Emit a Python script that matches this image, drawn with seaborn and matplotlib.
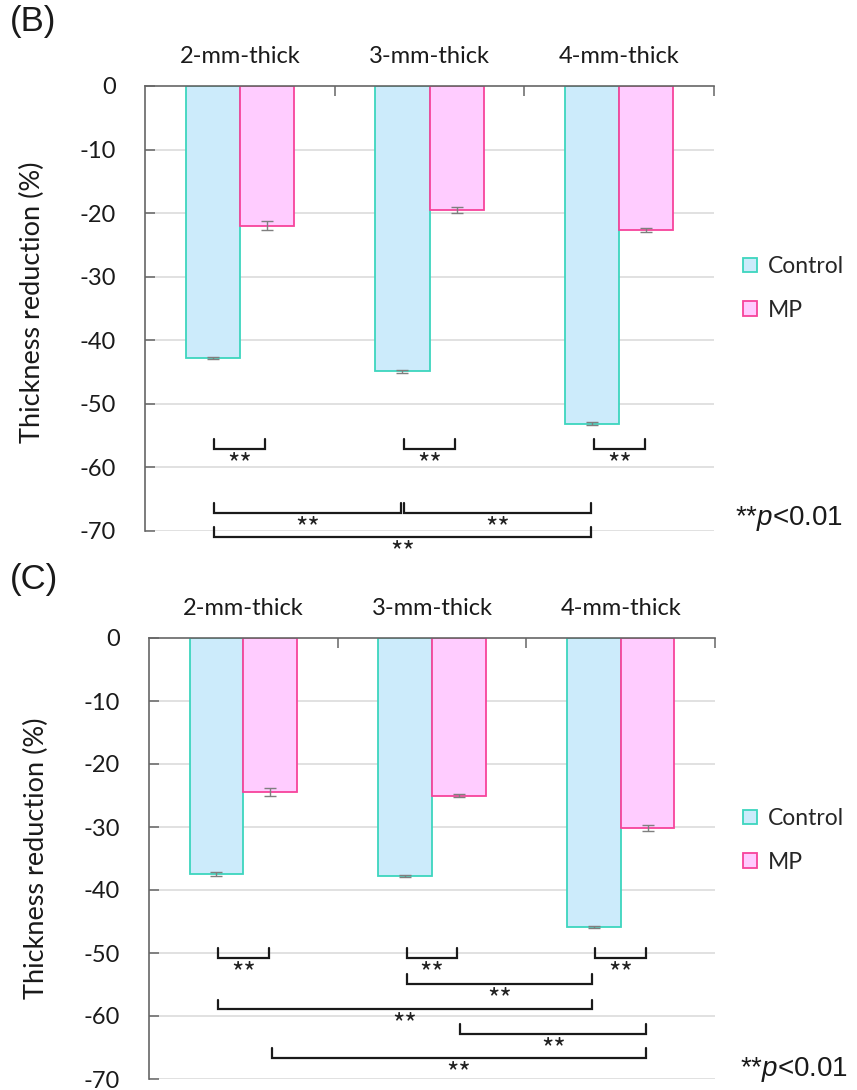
import pandas as pd
import numpy as np
import matplotlib.pyplot as plt
import seaborn as sns
from matplotlib.patches import Patch

# values (thickness reduction, %)
thickness = ["2-mm-thick", "3-mm-thick", "4-mm-thick"]
groups = ["Control", "MP"]

b_control = [-42.8, -44.9, -53.1]
b_mp = [-22.0, -19.5, -22.7]
b_control_err = [0.1, 0.3, 0.3]
b_mp_err = [0.7, 0.5, 0.3]

c_control = [-37.5, -37.8, -45.9]
c_mp = [-24.4, -25.0, -30.2]
c_control_err = [0.3, 0.2, 0.2]
c_mp_err = [0.6, 0.3, 0.5]

# comparisons: ((thickness idx, group), (thickness idx, group))
b_pairs = [((0, "Control"), (0, "MP")), ((1, "Control"), (1, "MP")), ((2, "Control"), (2, "MP")),
           ((0, "Control"), (1, "Control")), ((1, "Control"), (2, "Control")),
           ((0, "Control"), (2, "Control"))]
b_levels = [-55.6, -55.6, -55.6, -65.6, -65.6, -69.4]

c_pairs = [((0, "Control"), (0, "MP")), ((1, "Control"), (1, "MP")), ((2, "Control"), (2, "MP")),
           ((1, "Control"), (2, "Control")), ((0, "Control"), (2, "Control")),
           ((1, "MP"), (2, "MP")), ((0, "MP"), (2, "MP"))]
c_levels = [-49.2, -49.2, -49.2, -53.4, -57.4, -61.3, -65.1]

fill = {"Control": "#CCEBFB", "MP": "#FFCCFF"}
edge = {"Control": "#3DD5BE", "MP": "#F7439B"}

sns.set_theme(style="white")
plt.rcParams["font.family"] = ["Lato", "DejaVu Sans"]
plt.rcParams["mathtext.fontset"] = "custom"
plt.rcParams["mathtext.it"] = "Liberation Sans:italic"
plt.rcParams["mathtext.rm"] = "Liberation Sans"


def panel(ax, control, mp, control_err, mp_err, pairs, levels):
    df = pd.DataFrame({
        "thickness": thickness * 2,
        "group": ["Control"] * 3 + ["MP"] * 3,
        "value": control + mp,
    })
    errs = {"Control": control_err, "MP": mp_err}
    sns.barplot(data=df, x="thickness", y="value", hue="group", order=thickness,
                hue_order=groups, palette=fill, width=0.57, gap=0, errorbar=None,
                saturation=1, legend=False, ax=ax, zorder=2)
    centers = {}
    for g, cont in zip(groups, ax.containers):
        xs = []
        ys = []
        for i, bar in enumerate(cont):
            bar.set_edgecolor(edge[g])
            bar.set_linewidth(1.3)
            cx = bar.get_x() + bar.get_width() / 2
            centers[(i, g)] = cx
            xs.append(cx)
            ys.append(bar.get_y() + bar.get_height())
        ax.errorbar(xs, ys, yerr=errs[g], fmt="none", ecolor="#7F7F7F",
                    elinewidth=1, capsize=4, capthick=1, zorder=3)

    # significance brackets
    for (a, b), top in zip(pairs, levels):
        x1 = centers[a] + 0.008
        x2 = centers[b] - 0.008
        h = top - 1.55
        ax.plot([x1, x1, x2, x2], [top, h, h, top], color="#1A1A1A", lw=1.6,
                clip_on=False, zorder=4, solid_joinstyle="miter")
        ax.text((x1 + x2) / 2, h - 2.5, "**", ha="center", va="center",
                fontsize=19, family=["Noto Sans CJK JP", "DejaVu Sans"],
                color="#222222", clip_on=False)

    ax.set_xlim(-0.5, 2.5)
    ax.set_ylim(-70, 0)
    ax.set_yticks(np.arange(0, -71, -10))
    ax.set_yticklabels([str(v) for v in np.arange(0, -71, -10)])
    ax.set_xlabel("")
    ax.set_ylabel("")
    ax.xaxis.set_ticks_position("top")
    ax.set_xticks([0, 1, 2])
    ax.set_xticklabels(thickness)
    ax.set_xticks([0.5, 1.5, 2.5], minor=True)
    ax.tick_params(axis="x", which="major", length=0, pad=14, labelsize=17,
                   labelcolor="#1A1A1A")
    ax.tick_params(axis="x", which="minor", direction="in", length=7, width=1.1,
                   color="#666666", top=True, bottom=False)
    ax.tick_params(axis="y", direction="in", length=7, width=1.1, color="#666666",
                   left=True, pad=21, labelsize=17, labelcolor="#1A1A1A")
    for y in np.arange(-10, -71, -10):
        ax.axhline(y, color="#D9D9D9", lw=1.1, zorder=0)
    for s in ["right", "bottom"]:
        ax.spines[s].set_visible(False)
    for s in ["top", "left"]:
        ax.spines[s].set_color("#666666")
        ax.spines[s].set_linewidth(1.2)
        ax.spines[s].set_zorder(5)


fig = plt.figure(figsize=(8.57, 10.9), dpi=100)
W, H = 857, 1090
axb = fig.add_axes([145 / W, 1 - 531 / H, 569 / W, 445 / H])
axc = fig.add_axes([149 / W, 1 - 1079 / H, 566 / W, 441 / H])

panel(axb, b_control, b_mp, b_control_err, b_mp_err, b_pairs, b_levels)
panel(axc, c_control, c_mp, c_control_err, c_mp_err, c_pairs, c_levels)

handles = [Patch(facecolor=fill[g], edgecolor=edge[g], linewidth=1.3, label=g) for g in groups]
for ytop in [256, 808]:
    fig.legend(handles=handles, loc="upper left", bbox_to_anchor=(743 / W, 1 - ytop / H),
               frameon=False, fontsize=16.5, handlelength=0.62, handleheight=0.62,
               handletextpad=0.45, labelspacing=1.0, borderpad=0, borderaxespad=0)

fig.text(32 / W, 1 - 302 / H, "Thickness reduction (%)", rotation=90, ha="center",
         va="center", fontsize=19.5, color="#1A1A1A")
fig.text(36 / W, 1 - 858 / H, "Thickness reduction (%)", rotation=90, ha="center",
         va="center", fontsize=19.5, color="#1A1A1A")

fig.text(10 / W, 1 - 22 / H, "(B)", fontsize=25, va="center", ha="left",
         family="Liberation Sans", color="#1A1A1A")
fig.text(10 / W, 1 - 580 / H, "(C)", fontsize=25, va="center", ha="left",
         family="Liberation Sans", color="#1A1A1A")

fig.text(735 / W, 1 - 518 / H, r"**$\mathit{p}$<0.01", fontsize=20, va="center",
         ha="left", family="Liberation Sans", color="#1A1A1A")
fig.text(740 / W, 1 - 1070 / H, r"**$\mathit{p}$<0.01", fontsize=20, va="center",
         ha="left", family="Liberation Sans", color="#1A1A1A")

fig.savefig("out.png", dpi=100)
